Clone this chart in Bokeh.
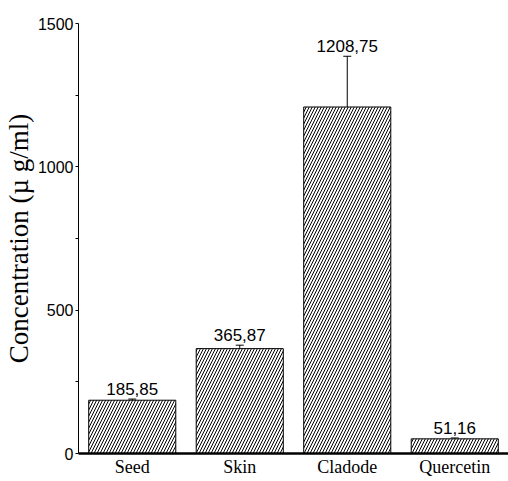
from bokeh.plotting import figure
from bokeh.models import (ColumnDataSource, FactorRange, Range1d, FixedTicker,
                          Whisker, TeeHead, LabelSet)
from bokeh.core.properties import value
from bokeh.embed import file_html
from bokeh.resources import INLINE

categories = ["Seed", "Skin", "Cladode", "Quercetin"]
concentrations = [185.85, 365.87, 1208.75, 51.16]
errors = [4, 12, 177, 3]
value_labels = ["185,85", "365,87", "1208,75", "51,16"]
y_ticks = [0, 500, 1000, 1500]
y_minor = [250, 750, 1250]

upper = [v + e for v, e in zip(concentrations, errors)]
lower = [v - e for v, e in zip(concentrations, errors)]
src = ColumnDataSource(dict(cat=categories, val=concentrations, upper=upper,
                            lower=lower, lab=value_labels))

p = figure(frame_width=430, frame_height=430,
           x_range=FactorRange(*categories, range_padding=0),
           y_range=Range1d(0, 1500), output_backend="svg", toolbar_location=None,
           min_border_top=23, min_border_bottom=0, min_border_left=0, min_border_right=0)
p.outline_line_color = None
p.xgrid.grid_line_color = None
p.ygrid.grid_line_color = None
p.background_fill_color = "white"

p.vbar(x="cat", top="val", width=0.81, source=src, fill_color="white",
       line_color="black", line_width=1, hatch_pattern="right_diagonal_line",
       hatch_color="black", hatch_scale=6, hatch_weight=1)

w = Whisker(source=src, base="cat", upper="upper", lower="lower",
            line_color="black", line_width=1,
            upper_head=TeeHead(size=8, line_color="black", line_width=1),
            lower_head=TeeHead(size=8, line_color="black", line_width=1))
p.add_layout(w)

labels = LabelSet(x="cat", y="upper", text="lab", source=src, y_offset=4,
                  text_align="center", text_baseline="alphabetic",
                  text_font=value("Liberation Sans"), text_font_size=value("17px"),
                  text_color="black")
p.add_layout(labels)

# y axis
ya = p.yaxis[0]
ya.ticker = FixedTicker(ticks=y_ticks, minor_ticks=y_minor)
ya.axis_label = "Concentration (\u00b5 g/ml)"
ya.axis_label_text_font = "Liberation Serif"
ya.axis_label_text_font_size = "27px"
ya.axis_label_text_font_style = "normal"
ya.axis_label_text_color = "black"
ya.axis_label_standoff = 1
ya.major_label_text_font = "Liberation Sans"
ya.major_label_text_font_size = "16px"
ya.major_label_text_color = "black"
ya.major_label_standoff = 2
ya.major_tick_in = 0
ya.major_tick_out = 3
ya.minor_tick_in = 0
ya.minor_tick_out = 3
ya.axis_line_color = "black"
ya.major_tick_line_color = "black"
ya.minor_tick_line_color = "black"

# x axis
xa = p.xaxis[0]
xa.major_label_text_font = "Liberation Serif"
xa.major_label_text_font_size = "18px"
xa.major_label_text_color = "black"
xa.major_label_standoff = 3
xa.major_tick_in = 0
xa.major_tick_out = 0
xa.minor_tick_in = 0
xa.minor_tick_out = 0
xa.major_tick_line_color = None
xa.axis_line_width = 2.5
xa.axis_line_color = "black"

open("out.html", "w").write(file_html(p, INLINE))
